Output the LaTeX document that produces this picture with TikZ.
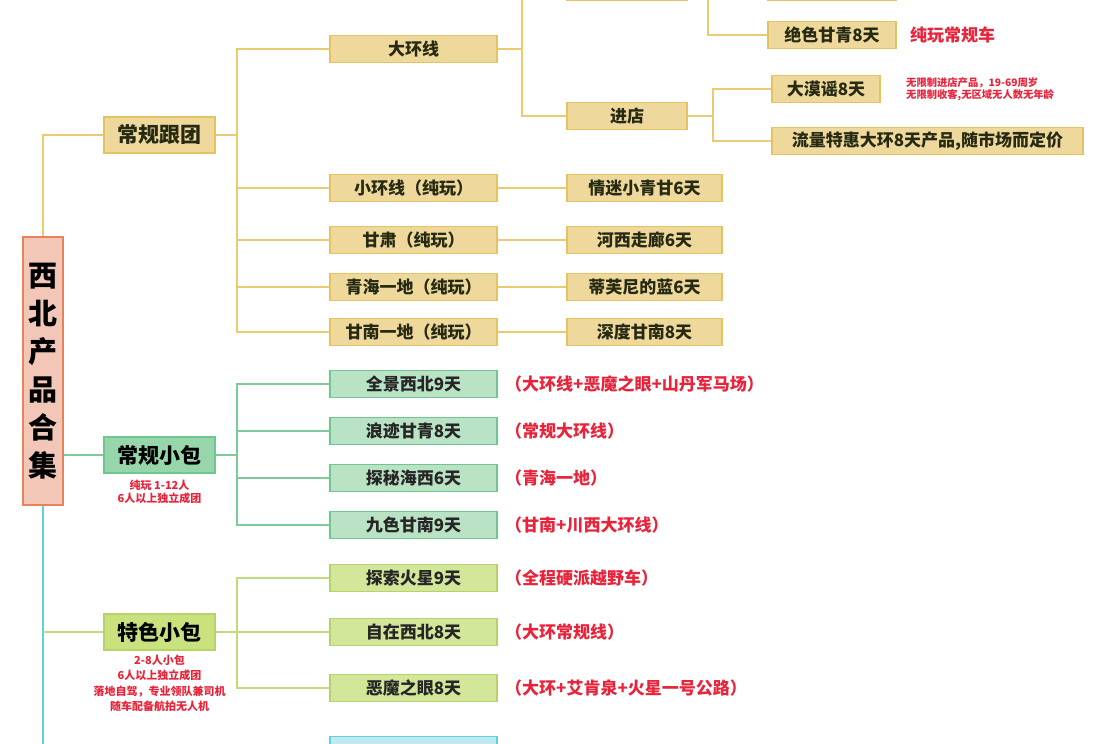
\documentclass[tikz,border=0pt]{standalone}
\usepackage{fontspec}
\setmainfont{Noto Sans CJK SC}
\begin{document}
\begin{tikzpicture}[x=1pt,y=-1pt,
  gold/.style={draw=#1,line width=1.8pt,fill=gbfill,text=boxtxt,font=\fontsize{17}{18}\selectfont\bfseries,inner sep=0pt,minimum height=27pt},
  gold/.default=gbdraw,
  grn/.style={draw=gndraw,line width=1.8pt,fill=gnfill,text=black!85,font=\fontsize{17}{18}\selectfont\bfseries,inner sep=0pt,minimum height=27pt,minimum width=167pt},
  yg/.style={draw=ygdraw,line width=1.8pt,fill=ygfill,text=black!85,font=\fontsize{17}{18}\selectfont\bfseries,inner sep=0pt,minimum height=27pt,minimum width=167pt},
  top/.style={inner sep=0pt,minimum height=36pt,minimum width=111pt,line width=1.8pt,font=\fontsize{21}{22}\selectfont\bfseries},
  red/.style={text=redc,font=\fontsize{17}{18}\selectfont\bfseries,anchor=west,inner sep=0pt},
  note/.style={text=redc,font=\fontsize{11}{13.5}\selectfont\bfseries,align=center,inner sep=0pt},
  gl/.style={draw=gline,line width=1.3pt},
  nl/.style={draw=nline,line width=1.3pt},
  yl/.style={draw=yline,line width=1.3pt},
  cl/.style={draw=cline,line width=1.5pt}]
\definecolor{gbfill}{HTML}{EFD89B}
\definecolor{gbdraw}{HTML}{E5C262}
\definecolor{boxtxt}{HTML}{262A12}
\definecolor{gnfill}{HTML}{B9E3C4}
\definecolor{gndraw}{HTML}{6DC78E}
\definecolor{ygfill}{HTML}{D2E79A}
\definecolor{ygdraw}{HTML}{B5D36A}
\definecolor{redc}{HTML}{E8233A}
\definecolor{gline}{HTML}{EACB72}
\definecolor{nline}{HTML}{7CCB98}
\definecolor{yline}{HTML}{C2DB7A}
\definecolor{cline}{HTML}{5ED0DE}
\definecolor{rootdraw}{HTML}{E8825A}
\definecolor{rootfill}{HTML}{F2C7B8}
\definecolor{g2fill}{HTML}{96D6AA}
\definecolor{g3fill}{HTML}{C9E27E}
\definecolor{cfill}{HTML}{BEEAF0}
\useasboundingbox[fill=white] (0,0) rectangle (1100,744);
% root
\node[draw=rootdraw,line width=2pt,fill=rootfill,minimum width=40pt,minimum height=268pt,inner sep=0pt,font=\fontsize{29}{38}\selectfont\bfseries,align=center] (r) at (43,371) {西\\北\\产\\品\\合\\集};
\node[gold,top] (g1) at (159.5,135) {常规跟团};
\node[top,draw=gndraw,fill=g2fill] (g2) at (159.5,455) {常规小包};
\node[top,draw=ygdraw,fill=g3fill] (g3) at (159.5,632) {特色小包};
% level 2 gold
\node[gold,minimum width=167pt] (a1) at (413.5,49) {大环线};
\node[gold,minimum width=167pt] (a2) at (413.5,188) {小环线（纯玩）};
\node[gold,minimum width=167pt] (a3) at (413.5,240) {甘肃（纯玩）};
\node[gold,minimum width=167pt] (a4) at (413.5,287) {青海一地（纯玩）};
\node[gold,minimum width=167pt] (a5) at (413.5,332) {甘南一地（纯玩）};
\node[gold,minimum width=155pt] (b2) at (644.5,188) {情迷小青甘6天};
\node[gold,minimum width=155pt] (b3) at (644.5,240) {河西走廊6天};
\node[gold,minimum width=155pt] (b4) at (644.5,287) {蒂芙尼的蓝6天};
\node[gold,minimum width=155pt] (b5) at (644.5,332) {深度甘南8天};
\node[gold,minimum width=120pt] (c0) at (627,-13) {};
\node[gold,minimum width=120pt] (c1) at (627,116) {进店};
\node[gold,minimum width=128pt] (d0) at (832,-13) {};
\node[gold,minimum width=128pt] (d1) at (832,35) {绝色甘青8天};
\node[red] (d1n) at (910,35) {纯玩常规车};
\node[gold,minimum width=108pt] (e1) at (826,89) {大漠谣8天};
\node[gold,minimum width=311pt] (e2) at (927.5,141) {流量特惠大环8天产品,随市场而定价};
\node[note,align=left,anchor=west,font=\fontsize{10.3}{12}\selectfont\bfseries] (e1n) at (906,89) {无限制进店产品，19-69周岁\\无限制收客,无区域无人数无年龄};
% green
\node[grn] (h1) at (413.5,384) {全景西北9天};
\node[grn] (h2) at (413.5,431) {浪迹甘青8天};
\node[grn] (h3) at (413.5,478) {探秘海西6天};
\node[grn] (h4) at (413.5,525) {九色甘南9天};
\node[red] (h1n) at (505,384) {（大环线+恶魔之眼+山丹军马场）};
\node[red] (h2n) at (505,431) {（常规大环线）};
\node[red] (h3n) at (505,478) {（青海一地）};
\node[red] (h4n) at (505,525) {（甘南+川西大环线）};
\node[note] (g2n) at (159.5,492) {纯玩 1-12人\\6人以上独立成团};
% yellow-green
\node[yg] (k1) at (413.5,578) {探索火星9天};
\node[yg] (k2) at (413.5,632) {自在西北8天};
\node[yg] (k3) at (413.5,688) {恶魔之眼8天};
\node[red] (k1n) at (505,578) {（全程硬派越野车）};
\node[red] (k2n) at (505,632) {（大环常规线）};
\node[red] (k3n) at (505,688) {（大环+艾肯泉+火星一号公路）};
\node[note,font=\fontsize{11}{15.5}\selectfont\bfseries] (g3n) at (159.5,683.5) {2-8人小包\\6人以上独立成团\\落地自驾，专业领队兼司机\\随车配备航拍无人机};
\node[draw=cline,line width=1.8pt,fill=cfill,minimum width=167pt,minimum height=27pt,inner sep=0pt] (m1) at (413.5,750) {};
% connectors
\draw[gl] (r.north) |- (g1.west);
\draw[nl] (r.east |- g2) -- (g2.west);
\draw[cl] (r.south) -- (43,744) coordinate (cb);
\draw[yl] (cb |- g3) -- (g3.west);
\foreach \t in {a1,a2,a3,a4,a5} \draw[gl] (g1.east) -- ++(21,0) |- (\t.west);
\foreach \i in {2,3,4,5} \draw[gl] (a\i.east) -- (b\i.west);
\foreach \t in {c0,c1} \draw[gl] (a1.east) -- ++(24,0) |- (\t.west);
\coordinate (topv) at (708,0);
\draw[gl] (topv) |- (d1.west);
\foreach \t in {e1,e2} \draw[gl] (c1.east) -- ++(25,0) |- (\t.west);
\foreach \t in {h1,h2,h3,h4} \draw[nl] (g2.east) -- ++(21,0) |- (\t.west);
\foreach \t in {k1,k2,k3} \draw[yl] (g3.east) -- ++(21,0) |- (\t.west);
\end{tikzpicture}
\end{document}
